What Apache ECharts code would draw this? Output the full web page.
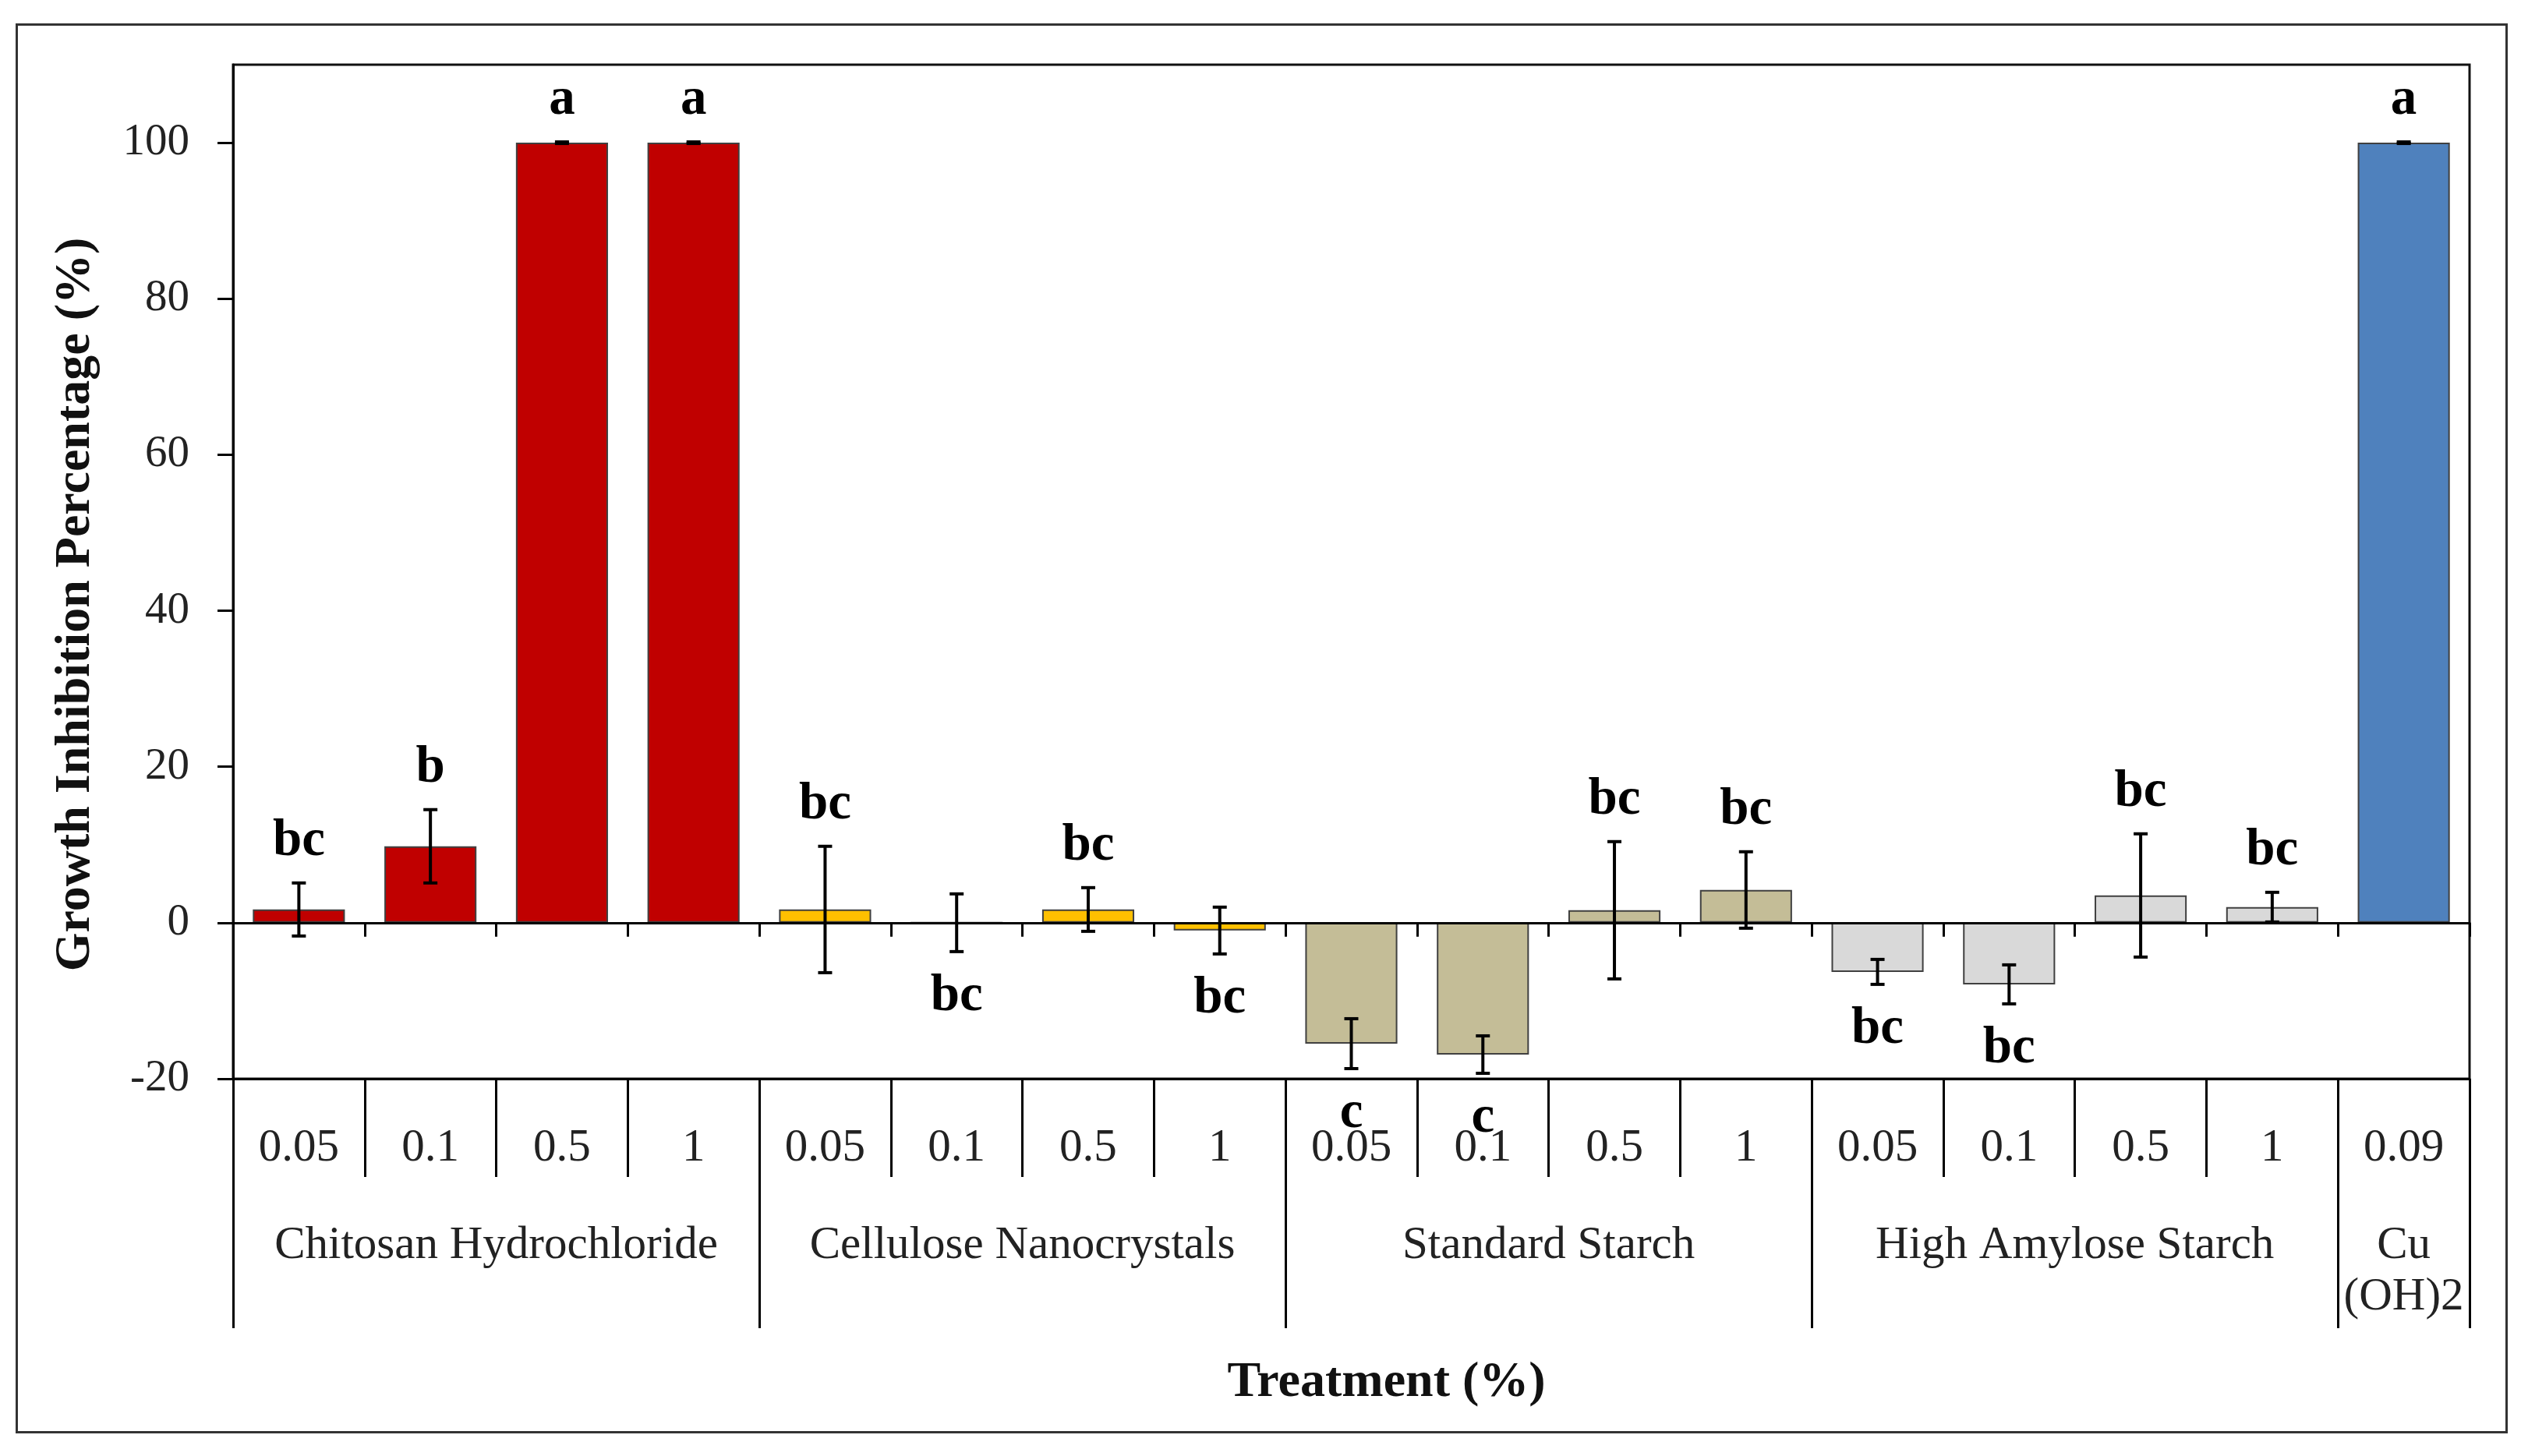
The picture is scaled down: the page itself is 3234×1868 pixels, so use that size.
<!DOCTYPE html>
<html>
<head>
<meta charset="utf-8">
<title>Growth Inhibition Percentage</title>
<script src="https://cdn.jsdelivr.net/npm/echarts@6/dist/echarts.min.js"></script>
<style>
html, body { margin: 0; padding: 0; background: #fff; }
#main { width: 3234px; height: 1868px; }
</style>
</head>
<body>
<div id="main"></div>
<script>
// data
var groups = ['Chitosan Hydrochloride', 'Cellulose Nanocrystals', 'Standard Starch', 'High Amylose Starch', 'Cu\n(OH)2'];
var groupSizes = [4, 4, 4, 4, 1];
var concentrations = ['0.05', '0.1', '0.5', '1', '0.05', '0.1', '0.5', '1', '0.05', '0.1', '0.5', '1', '0.05', '0.1', '0.5', '1', '0.09'];
var means = [1.7, 9.8, 100, 100, 1.7, 0, 1.7, -1.0, -15.5, -16.9, 1.6, 4.2, -6.3, -7.9, 3.5, 2.0, 100];
var errors = [3.4, 4.7, 0.1, 0.1, 8.1, 3.7, 2.8, 3.0, 3.2, 2.4, 8.8, 4.9, 1.6, 2.5, 7.9, 1.9, 0.1];
var letters = ['bc', 'b', 'a', 'a', 'bc', 'bc', 'bc', 'bc', 'c', 'c', 'bc', 'bc', 'bc', 'bc', 'bc', 'bc', 'a'];
var yTicks = [-20, 0, 20, 40, 60, 80, 100];

var groupColors = ['#C00000', '#FFC000', '#C4BD97', '#D9D9D9', '#4F81BD'];
var serif = '"Liberation Serif", "Times New Roman", serif';

var myChart = echarts.init(document.getElementById('main'));

// group boundaries and label positions on a 0..17 scale
var bounds = [0];
var mids = [];
groupSizes.forEach(function (n) {
    var start = bounds[bounds.length - 1];
    mids.push(start + n / 2);
    bounds.push(start + n);
});

var groupOf = [];
groupSizes.forEach(function (n, g) {
    for (var k = 0; k < n; k++) groupOf.push(g);
});

var barData = means.map(function (v, i) {
    return { value: v, itemStyle: { color: groupColors[groupOf[i]] } };
});

var errData = means.map(function (m, i) {
    return [i, m, errors[i]];
});

function renderErrorBar(params, api) {
    var i = api.value(0);
    var m = api.value(1);
    var e = api.value(2);
    var top = api.coord([i, m + e]);
    var bot = api.coord([i, m - e]);
    var cap = 9;
    var below = m <= 0;
    var ink = { stroke: '#000', lineWidth: 4 };
    return {
        type: 'group',
        children: [
            { type: 'line', shape: { x1: top[0], y1: top[1], x2: bot[0], y2: bot[1] }, style: ink },
            { type: 'line', shape: { x1: top[0] - cap, y1: top[1], x2: top[0] + cap, y2: top[1] }, style: ink },
            { type: 'line', shape: { x1: bot[0] - cap, y1: bot[1], x2: bot[0] + cap, y2: bot[1] }, style: ink },
            {
                type: 'text',
                style: {
                    text: letters[params.dataIndex],
                    x: top[0],
                    y: below ? bot[1] + 24 : top[1] - 20,
                    align: 'center',
                    verticalAlign: below ? 'top' : 'bottom',
                    font: 'bold 67px ' + serif,
                    fill: '#000'
                }
            }
        ]
    };
}

var option = {
    backgroundColor: '#fff',
    animation: false,
    graphic: [{
        type: 'rect',
        left: 19,
        top: 29,
        shape: { width: 3194, height: 1806 },
        style: { fill: 'none', stroke: '#333', lineWidth: 3 },
        z: -1
    }],
    grid: {
        left: 299,
        top: 83,
        width: 2869,
        height: 1301,
        show: true,
        borderColor: '#111',
        borderWidth: 3,
        outerBoundsMode: 'none'
    },
    xAxis: [{
        // axis line through zero
        type: 'category',
        data: concentrations,
        position: 'bottom',
        z: 3,
        axisLine: { onZero: true, lineStyle: { color: '#000', width: 3 } },
        axisTick: { show: true, interval: 0, length: 18, lineStyle: { color: '#000', width: 3 } },
        axisLabel: { show: false },
        splitLine: { show: false }
    }, {
        // concentration labels under the plot
        type: 'category',
        data: concentrations,
        position: 'bottom',
        axisLine: { onZero: false, lineStyle: { color: '#000', width: 3 } },
        axisTick: { show: true, interval: 0, length: 126, lineStyle: { color: '#000', width: 3 } },
        axisLabel: { interval: 0, margin: 60, fontFamily: serif, fontSize: 59, color: '#222' },
        splitLine: { show: false }
    }, {
        // treatment group labels
        type: 'value',
        min: 0,
        max: bounds[bounds.length - 1],
        position: 'bottom',
        axisLine: { show: false, onZero: false },
        axisTick: { show: true, customValues: bounds, length: 320, lineStyle: { color: '#000', width: 3 } },
        axisLabel: {
            customValues: mids,
            margin: 181,
            fontFamily: serif,
            fontSize: 59,
            lineHeight: 66,
            color: '#222',
            formatter: function (v) {
                return groups[mids.indexOf(v)];
            }
        },
        splitLine: { show: false },
        name: 'Treatment (%)',
        nameLocation: 'middle',
        nameGap: 358,
        nameTextStyle: { fontFamily: serif, fontSize: 64, fontWeight: 'bold', color: '#111', padding: [0, 0, 0, 90] }
    }],
    yAxis: {
        type: 'value',
        min: -20,
        max: 110,
        interval: 20,
        axisLine: { show: true, lineStyle: { color: '#000', width: 3 } },
        axisTick: { show: true, customValues: yTicks, length: 20, lineStyle: { color: '#000', width: 3 } },
        axisLabel: { customValues: yTicks, margin: 56, fontFamily: serif, fontSize: 57, color: '#222' },
        splitLine: { show: false },
        name: 'Growth Inhibition Percentage (%)',
        nameLocation: 'middle',
        nameRotate: 90,
        nameGap: 170,
        nameTextStyle: { fontFamily: serif, fontSize: 64, fontWeight: 'bold', color: '#111', padding: [0, 84, 0, 0] }
    },
    series: [{
        name: 'Growth inhibition',
        type: 'bar',
        xAxisIndex: 0,
        yAxisIndex: 0,
        data: barData,
        barCategoryGap: '30%',
        itemStyle: { borderColor: '#404040', borderWidth: 2 }
    }, {
        name: 'Error',
        type: 'custom',
        xAxisIndex: 0,
        yAxisIndex: 0,
        data: errData,
        encode: { x: 0, y: 1 },
        renderItem: renderErrorBar,
        z: 5
    }]
};

myChart.setOption(option);
</script>
</body>
</html>
